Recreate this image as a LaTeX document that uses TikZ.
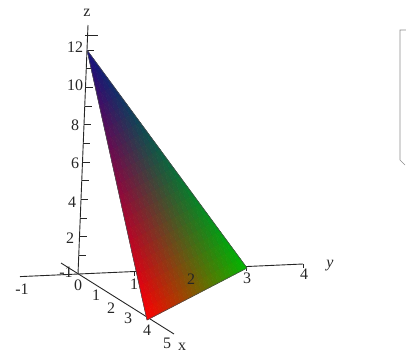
\documentclass[tikz,border=0pt]{standalone}
\usepackage{fontspec}
\setmainfont{Liberation Serif}
\begin{document}
\begin{tikzpicture}[x=1pt,y=-1pt,
  lbl/.style={font=\fontsize{16}{16}\selectfont, inner sep=0pt, text=black!85},
  axisline/.style={line width=0.9pt, black!85},
  tickline/.style={line width=0.8pt, black!85}]
\useasboundingbox (0,0) rectangle (406,354);
% axes
\coordinate (O) at (78,274);
\coordinate (ztop) at (88,25);
\coordinate (xneg) at (61,263);
\coordinate (xend) at (174,334);
\coordinate (yneg) at (20,276.6);
\coordinate (yend) at (303,264);
\draw[axisline] (O) -- (ztop);
\draw[axisline] (xneg) -- (xend);
\draw[axisline] (yneg) -- (yend);
\foreach \k in {1,...,12}{
  \draw[tickline] ({78+0.75*\k},{274-18.67*\k}) -- ++(7,0);
}
\draw[tickline] (85,35) -- (98,35);
\foreach \k in {1,...,4}{
  \draw[tickline] ({78+56.25*\k},{274-2.5*\k}) -- ++(0,4);
}
% triangle (Gouraud-like subdivision)
\foreach \i in {0,...,23}{
  \pgfmathtruncatemacro\jm{23-\i}
  \foreach \j in {0,...,\jm}{
    \pgfmathsetmacro\xa{87+\i*2.5+\j*6.66667}
    \pgfmathsetmacro\ya{50+\i*11.25+\j*9.08333}
    \pgfmathsetmacro\wb{(\i+1/3)/24}
    \pgfmathsetmacro\wc{(\j+1/3)/24}
    \pgfmathsetmacro\wa{1-\wb-\wc}
    \pgfmathsetmacro\cr{min(1,max(0,0.08*\wa+1.0*\wb))}
    \pgfmathsetmacro\cg{min(1,max(0,0.06*\wa+0.72*\wc))}
    \pgfmathsetmacro\cb{min(1,max(0,0.50*\wa))}
    \definecolor{tc}{rgb}{\cr,\cg,\cb}
    \fill[tc,draw=tc,line width=0.5pt,line join=round] (\xa,\ya) -- (\xa+2.5,\ya+11.25) -- (\xa+6.66667,\ya+9.08333) -- cycle;
    \ifnum\jm>\j
      \pgfmathsetmacro\wb{(\i+2/3)/24}
      \pgfmathsetmacro\wc{(\j+2/3)/24}
      \pgfmathsetmacro\wa{1-\wb-\wc}
      \pgfmathsetmacro\cr{min(1,max(0,0.08*\wa+1.0*\wb))}
      \pgfmathsetmacro\cg{min(1,max(0,0.06*\wa+0.72*\wc))}
      \pgfmathsetmacro\cb{min(1,max(0,0.50*\wa))}
      \definecolor{tc}{rgb}{\cr,\cg,\cb}
      \fill[tc,draw=tc,line width=0.5pt,line join=round] (\xa+2.5,\ya+11.25) -- (\xa+9.16667,\ya+20.33333) -- (\xa+6.66667,\ya+9.08333) -- cycle;
    \fi
  }
}
\coordinate (A) at (87,50);
\coordinate (B) at (147,320);
\coordinate (C) at (247,268);
\draw[line width=0.5pt, black!70, line join=round] (A) -- (B) -- (C) -- cycle;
% labels
\node[lbl] (zl) at (87,13) {z};
\node[lbl] (z12) at (75,47) {12};
\node[lbl] (z10) at (75,85) {10};
\node[lbl] (z8) at (75,125) {8};
\node[lbl] (z6) at (75,163) {6};
\node[lbl] (z4) at (72,202) {4};
\node[lbl] (z2) at (70,238) {2};
\node[lbl] (o) at (78,285) {0};
\node[lbl] (xm1) at (66,272) {-1};
\node[lbl] (x1) at (96,295) {1};
\node[lbl] (x2) at (111,308) {2};
\node[lbl] (x3) at (128,318) {3};
\node[lbl] (x4) at (147,330) {4};
\node[lbl] (x5) at (167,343) {5};
\node[lbl] (xl) at (182,347) {x};
\node[lbl] (ym1) at (22,289) {-1};
\node[lbl] (y1) at (134,284) {1};
\node[lbl] (y2) at (191,279) {2};
\node[lbl] (y3) at (247,278) {3};
\node[lbl] (y4) at (304,274) {4};
\node[lbl] (yl) at (330,266) {\itshape y};
% partial frame at right edge
\draw[black!45, line width=0.6pt] (406,30) -- (400,30) -- (400,160) -- (405,165);
\end{tikzpicture}
\end{document}
